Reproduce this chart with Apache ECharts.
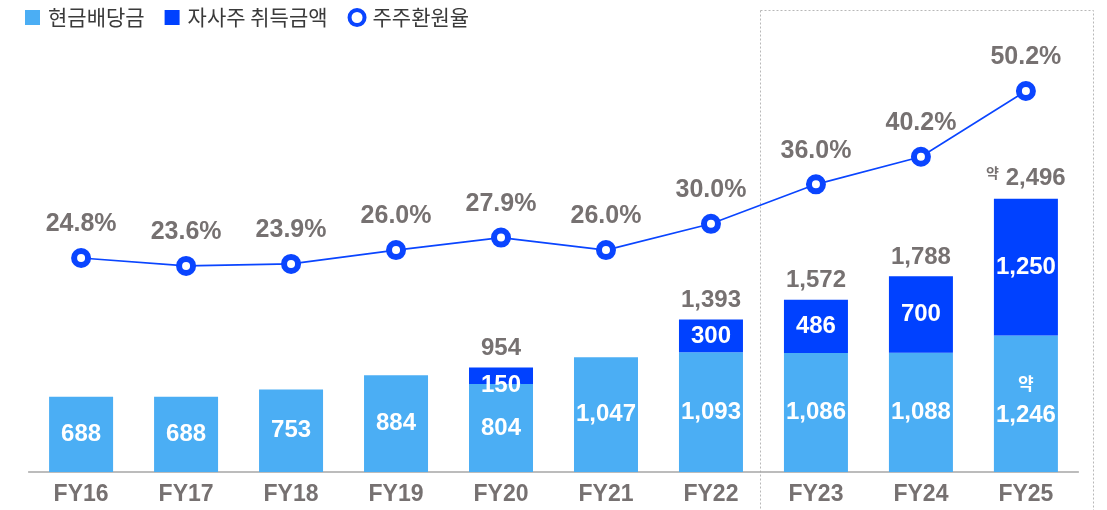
<!DOCTYPE html>
<html lang="ko">
<head>
    <meta charset="UTF-8">
    <title>주주환원</title>
    <style>
        html, body { margin: 0; padding: 0; background: #fff; }
        #container { width: 1107px; height: 510px; }
    </style>
</head>
<body>
    <div id="container"></div>
    <script src="https://cdn.jsdelivr.net/npm/echarts@6/dist/echarts.min.js"></script>
    <script>
        var years = ['FY16', 'FY17', 'FY18', 'FY19', 'FY20', 'FY21', 'FY22', 'FY23', 'FY24', 'FY25'];
        var cashDividend = [688, 688, 753, 884, 804, 1047, 1093, 1086, 1088, 1246];
        var buyback = [null, null, null, null, 150, null, 300, 486, 700, 1250];
        var returnRatio = [24.8, 23.6, 23.9, 26.0, 27.9, 26.0, 30.0, 36.0, 40.2, 50.2];

        var gray = '#767171';
        var numFont = '"Liberation Sans", Arial, sans-serif';
        var krFont = '"Noto Sans CJK KR", sans-serif';

        function fmt(v) {
            return v.toLocaleString('en-US');
        }

        // 합계 = 현금배당 + 자사주 (자사주가 있는 해만 표시)
        var totals = buyback.map(function (b, i) {
            return b == null ? null : [i, cashDividend[i] + b];
        }).filter(function (d) { return d != null; });

        var last = years.length - 1;

        var myChart = echarts.init(document.getElementById('container'));
        var option = {
            animation: false,
            legend: {
                left: 20,
                top: 2,
                itemWidth: 15,
                itemHeight: 15,
                itemGap: 20,
                textStyle: { fontFamily: krFont, fontSize: 21, color: '#3a3a3a', padding: [0, 0, 0, 3] },
                data: [
                    { name: '현금배당금', icon: 'rect' },
                    { name: '자사주 취득금액', icon: 'rect' },
                    { name: '주주환원율', icon: 'circle',
                      itemStyle: { color: '#fff', borderColor: '#0a45ff', borderWidth: 4 } }
                ]
            },
            graphic: [{
                type: 'rect',
                shape: { x: 760.5, y: 10.5, width: 333, height: 510 },
                style: { fill: 'none', stroke: '#b8b8b8', lineWidth: 1, lineDash: [2, 2] },
                z: -1
            }],
            grid: { left: 28.6, right: 28.6, top: 34, bottom: 38 },
            xAxis: {
                type: 'category',
                data: years,
                axisTick: { show: false },
                axisLine: { lineStyle: { color: '#a6a6a6', width: 1.5 } },
                axisLabel: {
                    margin: 11,
                    fontFamily: numFont,
                    fontWeight: 'bold',
                    fontSize: 23,
                    color: gray
                }
            },
            yAxis: [{
                type: 'value',
                min: 0,
                max: 4000,
                show: false,
                splitLine: { show: false }
            }, {
                type: 'value',
                min: -7.75,
                max: 58.87,
                show: false,
                splitLine: { show: false }
            }],
            series: [{
                name: '현금배당금',
                type: 'bar',
                stack: 'total',
                barWidth: 64,
                itemStyle: { color: '#4baef4' },
                data: cashDividend.map(function (v, i) {
                    if (i === last) {
                        return {
                            value: v,
                            label: {
                                formatter: '{s|약}\n{n|' + fmt(v) + '}',
                                offset: [0, -4]
                            }
                        };
                    }
                    return v;
                }),
                label: {
                    show: true,
                    position: 'inside',
                    color: '#fff',
                    fontFamily: numFont,
                    fontWeight: 'bold',
                    fontSize: 24,
                    formatter: function (p) { return fmt(p.value); },
                    rich: {
                        s: { fontFamily: krFont, fontWeight: 'bold', fontSize: 17, color: '#fff', lineHeight: 32 },
                        n: { fontFamily: numFont, fontWeight: 'bold', fontSize: 24, color: '#fff', lineHeight: 32 }
                    }
                }
            }, {
                name: '자사주 취득금액',
                type: 'bar',
                stack: 'total',
                barWidth: 64,
                itemStyle: { color: '#0041ff' },
                data: buyback.map(function (v, i) {
                    if (v === 150) {
                        return { value: v, label: { offset: [0, 10] } };
                    }
                    return v;
                }),
                label: {
                    show: true,
                    position: 'inside',
                    color: '#fff',
                    fontFamily: numFont,
                    fontWeight: 'bold',
                    fontSize: 24,
                    formatter: function (p) { return fmt(p.value); }
                }
            }, {
                name: '합계',
                type: 'scatter',
                symbolSize: 0,
                data: totals,
                silent: true,
                itemStyle: { opacity: 1 },
                label: {
                    show: true,
                    position: 'top',
                    distance: 7,
                    color: gray,
                    fontFamily: numFont,
                    fontWeight: 'bold',
                    fontSize: 24,
                    formatter: function (p) {
                        var s = fmt(p.value[1]);
                        return p.value[0] === last ? '{s|약} {n|' + s + '}' : '{n|' + s + '}';
                    },
                    rich: {
                        n: { fontFamily: numFont, fontWeight: 'bold', fontSize: 24, color: gray },
                        s: { fontFamily: krFont, fontWeight: 'bold', fontSize: 14, color: gray, verticalAlign: 'top', padding: [0, 0, 12, 0] }
                    }
                }
            }, {
                name: '주주환원율',
                type: 'line',
                yAxisIndex: 1,
                data: returnRatio,
                symbol: 'circle',
                symbolSize: 14,
                itemStyle: { color: '#fff', borderColor: '#0a45ff', borderWidth: 6 },
                lineStyle: { color: '#0a45ff', width: 1.6 },
                label: {
                    show: true,
                    position: 'top',
                    distance: 11,
                    color: gray,
                    fontFamily: numFont,
                    fontWeight: 'bold',
                    fontSize: 25,
                    formatter: function (p) { return p.value.toFixed(1) + '%'; }
                },
                z: 5
            }]
        };

        myChart.setOption(option);
    </script>
</body>
</html>
